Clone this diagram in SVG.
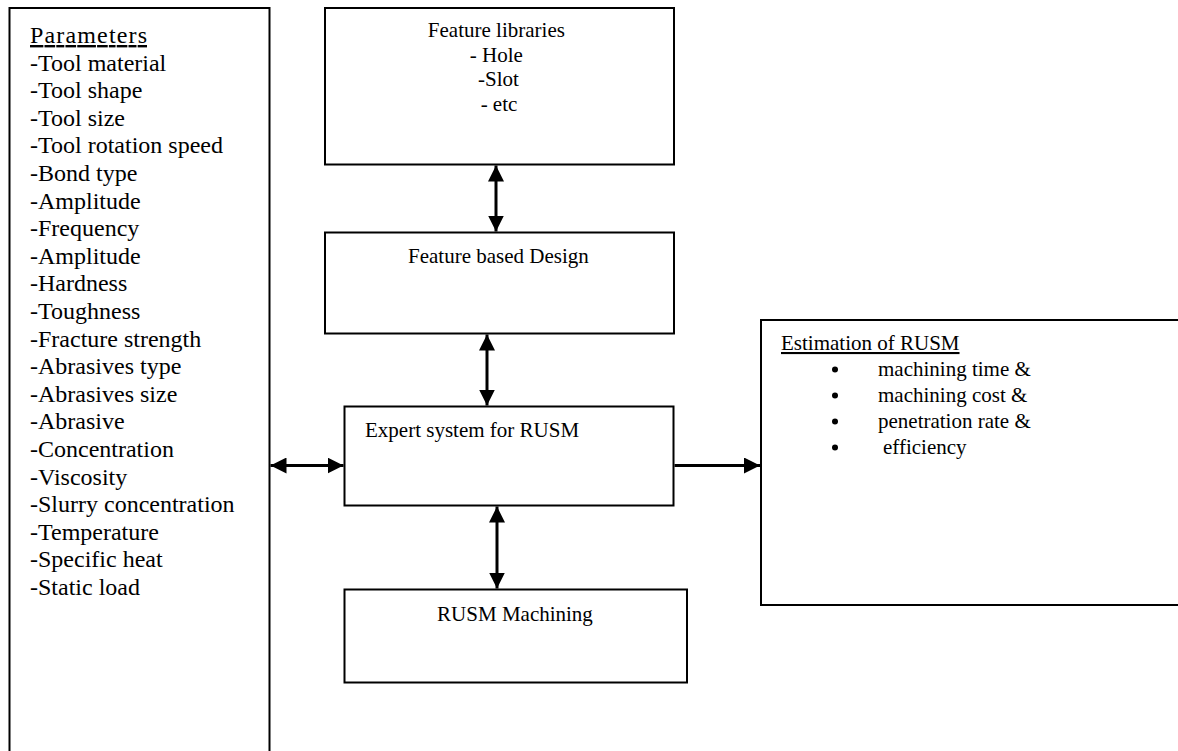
<svg xmlns="http://www.w3.org/2000/svg" width="1178" height="751" viewBox="0 0 1178 751">
<style>
.box{fill:#fff;stroke:#000;stroke-width:2}
.t{font-family:"Liberation Serif","Times New Roman",serif;fill:#000}
.p{font-size:24px}
.m{font-size:21px}
.u{text-decoration:underline}
.c{stroke:#000;stroke-width:3;fill:none}
</style>
<defs>
<marker id="ah" markerUnits="userSpaceOnUse" markerWidth="17" markerHeight="16" refX="16" refY="8" orient="auto-start-reverse" viewBox="0 0 17 16">
<path d="M0,0 L16,8 L0,16 z" fill="#000"/>
</marker>
</defs>
<rect width="1178" height="751" fill="#fff"/>
<g id="parameters">
<rect class="box" x="9.5" y="8" width="260" height="760"/>
<text class="t p" x="30">
<tspan x="30" y="43" class="u" textLength="117">Parameters</tspan>
<tspan x="30" y="70.6">-Tool material</tspan>
<tspan x="30" y="98.2">-Tool shape</tspan>
<tspan x="30" y="125.8">-Tool size</tspan>
<tspan x="30" y="153.4">-Tool rotation speed</tspan>
<tspan x="30" y="181">-Bond type</tspan>
<tspan x="30" y="208.6">-Amplitude</tspan>
<tspan x="30" y="236.2">-Frequency</tspan>
<tspan x="30" y="263.8">-Amplitude</tspan>
<tspan x="30" y="291.4">-Hardness</tspan>
<tspan x="30" y="319">-Toughness</tspan>
<tspan x="30" y="346.6">-Fracture strength</tspan>
<tspan x="30" y="374.2">-Abrasives type</tspan>
<tspan x="30" y="401.8">-Abrasives size</tspan>
<tspan x="30" y="429.4">-Abrasive</tspan>
<tspan x="30" y="457">-Concentration</tspan>
<tspan x="30" y="484.6">-Viscosity</tspan>
<tspan x="30" y="512.2">-Slurry concentration</tspan>
<tspan x="30" y="539.8">-Temperature</tspan>
<tspan x="30" y="567.4">-Specific heat</tspan>
<tspan x="30" y="595">-Static load</tspan>
</text>
</g>
<g id="feature-libraries">
<rect class="box" x="325" y="8" width="349" height="156.5"/>
<text class="t m" text-anchor="middle">
<tspan x="499" y="37">Feature libraries</tspan>
<tspan x="499" y="62">- Hole</tspan>
<tspan x="501" y="86">-Slot</tspan>
<tspan x="499" y="110.5">- etc</tspan>
</text>
</g>
<g id="feature-design">
<rect class="box" x="325" y="232.5" width="349" height="101"/>
<text class="t m" x="408" y="263">Feature based Design</text>
</g>
<g id="expert-system">
<rect class="box" x="344.5" y="406.5" width="329" height="99"/>
<text class="t m" x="365" y="437">Expert system for RUSM</text>
</g>
<g id="rusm-machining">
<rect class="box" x="344.5" y="589.5" width="342.5" height="93"/>
<text class="t m" x="515" y="620.5" text-anchor="middle">RUSM Machining</text>
</g>
<g id="estimation">
<rect class="box" x="761" y="320" width="500" height="285"/>
<text class="t m u" x="781" y="350">Estimation of RUSM</text>
<circle cx="835" cy="369.5" r="3"/>
<circle cx="835" cy="395.5" r="3"/>
<circle cx="835" cy="421.5" r="3"/>
<circle cx="835" cy="447.5" r="3"/>
<text class="t m">
<tspan x="878" y="376">machining time &amp;</tspan>
<tspan x="878" y="402">machining cost &amp;</tspan>
<tspan x="878" y="428">penetration rate &amp;</tspan>
<tspan x="883" y="454">efficiency</tspan>
</text>
</g>
<g id="connectors">
<line class="c" x1="496" y1="165.5" x2="496" y2="231.5" marker-start="url(#ah)" marker-end="url(#ah)"/>
<line class="c" x1="487" y1="334.5" x2="487" y2="405.5" marker-start="url(#ah)" marker-end="url(#ah)"/>
<line class="c" x1="270.5" y1="465.5" x2="343.5" y2="465.5" marker-start="url(#ah)" marker-end="url(#ah)"/>
<line class="c" x1="674.5" y1="465.5" x2="760" y2="465.5" marker-end="url(#ah)"/>
<line class="c" x1="497" y1="506.5" x2="497" y2="588.5" marker-start="url(#ah)" marker-end="url(#ah)"/>
</g>
</svg>
